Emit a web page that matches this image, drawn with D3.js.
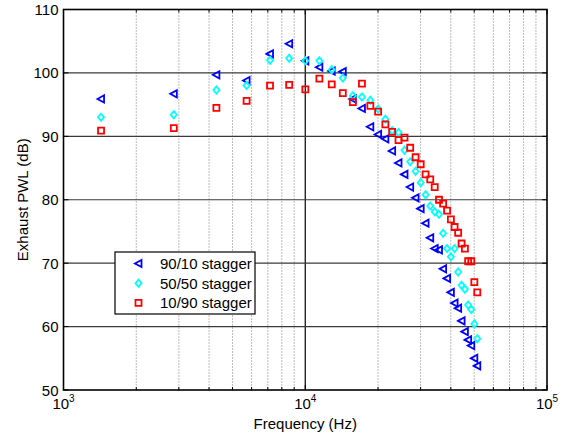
<!DOCTYPE html>
<html>
<head>
<meta charset="utf-8">
<script src="https://cdn.jsdelivr.net/npm/d3@7/dist/d3.min.js"></script>
<style>
  html, body { margin: 0; padding: 0; background: #fff; }
  svg { display: block; }
  text { font-family: "Liberation Sans", Arial, Helvetica, sans-serif; fill: #000; }
</style>
</head>
<body>
<svg id="chart" width="566" height="436"></svg>
<script>
// Tone frequencies (Hz), one per harmonic
const freqHz = [1430, 2860, 4290, 5720, 7150, 8580, 10010, 11440, 12870, 14300,
  15730, 17160, 18590, 20020, 21450, 22880, 24310, 25740, 27170, 28600,
  30030, 31460, 32890, 34320, 35750, 37180, 38610, 40040, 41470, 42900,
  44330, 45760, 47190, 48620, 50050, 51480];

// Exhaust PWL (dB) for each stagger configuration
const pwl9010 = [95.9, 96.7, 99.7, 98.8, 103.0, 104.6, 101.9, 100.9, 100.3, 100.2,
  95.9, 94.4, 91.5, 90.3, 89.6, 87.7, 85.8, 84.0, 82.0, 80.3,
  78.6, 76.3, 74.0, 72.3, 72.1, 69.1, 67.6, 65.4, 63.7, 62.9,
  60.9, 59.2, 57.9, 57.0, 55.0, 53.8];
const pwl5050 = [93.0, 93.4, 97.3, 98.0, 102.0, 102.3, 101.9, 101.9, 100.5, 99.2,
  96.4, 96.2, 95.7, 94.3, 92.7, 90.9, 90.6, 87.8, 86.0, 84.5,
  82.7, 80.8, 79.0, 78.1, 77.7, 74.7, 72.3, 71.0, 72.3, 68.6,
  66.5, 65.9, 63.4, 62.7, 60.4, 58.1];
const pwl1090 = [90.9, 91.3, 94.5, 95.6, 98.0, 98.1, 97.4, 99.1, 98.2, 96.8,
  95.4, 98.3, 94.8, 93.9, 91.9, 90.7, 89.4, 89.8, 88.2, 86.7,
  85.6, 84.0, 83.2, 82.0, 80.0, 79.4, 78.3, 76.9, 75.7, 74.8,
  73.1, 72.3, 70.3, 70.3, 67.0, 65.4];

const seriesNames = ["90/10 stagger", "50/50 stagger", "10/90 stagger"];
const yTicks = [50, 60, 70, 80, 90, 100, 110];
const xTickExponents = [3, 4, 5];
const xLabel = "Frequency (Hz)";
const yLabel = "Exhaust PWL (dB)";

const series = [
  { name: seriesNames[0], values: pwl9010, color: "#0000ff", shape: "triangle" },
  { name: seriesNames[1], values: pwl5050, color: "#00ffff", shape: "diamond" },
  { name: seriesNames[2], values: pwl1090, color: "#ff0000", shape: "square" }
];

const svg = d3.select("#chart");
const plotLeft = 63.5, plotRight = 547, plotTop = 9.5, plotBottom = 390;

const x = d3.scaleLog().domain([1e3, 1e5]).range([plotLeft, plotRight]);
const y = d3.scaleLinear().domain([50, 110]).range([plotBottom, plotTop]);

// Marker outlines, centred on the data point
const shapes = {
  triangle: "M-3.6,0L3,-3.6L3,3.6Z",
  diamond: "M0,-3.6L3,0L0,3.6L-3,0Z",
  square: "M-3,-3L3,-3L3,3L-3,3Z"
};

// Grid: dotted minor verticals, solid majors
const allXTicks = x.ticks();
const isDecade = v => Math.abs(Math.log10(v) - Math.round(Math.log10(v))) < 1e-9;
const minor = allXTicks.filter(v => !isDecade(v));
const major = allXTicks.filter(v => isDecade(v) && v > 1e3 && v < 1e5);

svg.append("g").selectAll("line").data(minor).join("line")
  .attr("x1", d => x(d)).attr("x2", d => x(d))
  .attr("y1", plotTop).attr("y2", plotBottom)
  .attr("stroke", "#7a7a7a").attr("stroke-width", 1)
  .attr("stroke-dasharray", "1,2");

svg.append("g").selectAll("line").data(major).join("line")
  .attr("x1", d => x(d)).attr("x2", d => x(d))
  .attr("y1", plotTop).attr("y2", plotBottom)
  .attr("stroke", "#000").attr("stroke-width", 1.2);

svg.append("g").selectAll("line").data(yTicks.slice(1, -1)).join("line")
  .attr("x1", plotLeft).attr("x2", plotRight)
  .attr("y1", d => y(d)).attr("y2", d => y(d))
  .attr("stroke", "#3a3a3a").attr("stroke-width", 1.2);

// Tick marks on all four sides
const tickG = svg.append("g").attr("stroke", "#000").attr("stroke-width", 1);
allXTicks.forEach(v => {
  const len = isDecade(v) ? 5 : 3;
  tickG.append("line").attr("x1", x(v)).attr("x2", x(v)).attr("y1", plotBottom).attr("y2", plotBottom - len);
  tickG.append("line").attr("x1", x(v)).attr("x2", x(v)).attr("y1", plotTop).attr("y2", plotTop + len);
});
yTicks.forEach(v => {
  tickG.append("line").attr("x1", plotLeft).attr("x2", plotLeft + 5).attr("y1", y(v)).attr("y2", y(v));
  tickG.append("line").attr("x1", plotRight).attr("x2", plotRight - 5).attr("y1", y(v)).attr("y2", y(v));
});

// Data markers
series.forEach(s => {
  svg.append("g").selectAll("path").data(s.values).join("path")
    .attr("d", shapes[s.shape])
    .attr("transform", (d, i) => `translate(${x(freqHz[i])},${y(d)})`)
    .attr("fill", "none")
    .attr("stroke", s.color)
    .attr("stroke-width", 1.8);
});

// Plot frame
svg.append("rect")
  .attr("x", plotLeft).attr("y", plotTop)
  .attr("width", plotRight - plotLeft).attr("height", plotBottom - plotTop)
  .attr("fill", "none").attr("stroke", "#000").attr("stroke-width", 1.6);

// Y tick labels
svg.append("g").selectAll("text").data(yTicks).join("text")
  .attr("x", plotLeft - 5).attr("y", d => y(d) + 5.5)
  .attr("text-anchor", "end").attr("font-size", 15)
  .text(d => d);

// X tick labels as powers of ten
xTickExponents.forEach(e => {
  const t = svg.append("text")
    .attr("x", x(Math.pow(10, e))).attr("y", 409)
    .attr("text-anchor", "middle").attr("font-size", 15);
  t.append("tspan").text("10");
  t.append("tspan").attr("dy", -7).attr("font-size", 10).text(e);
});

// Axis titles
svg.append("text")
  .attr("x", (plotLeft + plotRight) / 2).attr("y", 429)
  .attr("text-anchor", "middle").attr("font-size", 15)
  .text(xLabel);

svg.append("text")
  .attr("transform", `translate(28,${(plotTop + plotBottom) / 2}) rotate(-90)`)
  .attr("text-anchor", "middle").attr("font-size", 15)
  .text(yLabel);

// Legend
const lg = svg.append("g").attr("transform", "translate(115,252)");
lg.append("rect").attr("width", 140).attr("height", 62)
  .attr("fill", "#fff").attr("stroke", "#000").attr("stroke-width", 1.2);
series.forEach((s, i) => {
  const cy = 11.5 + i * 19.7;
  lg.append("path").attr("d", shapes[s.shape])
    .attr("transform", `translate(23.5,${cy})`)
    .attr("fill", "none").attr("stroke", s.color).attr("stroke-width", 1.8);
  lg.append("text").attr("x", 45).attr("y", cy + 5.5)
    .attr("font-size", 15).text(s.name);
});
</script>
</body>
</html>
